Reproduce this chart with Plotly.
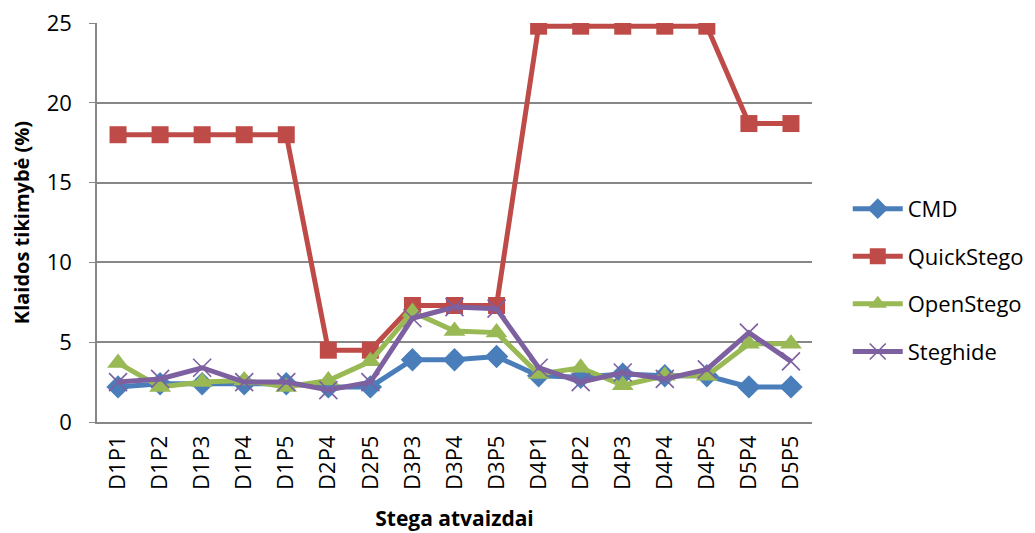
import plotly.graph_objects as go

# Stego images (x categories)
categories = ["D1P1", "D1P2", "D1P3", "D1P4", "D1P5", "D2P4", "D2P5", "D3P3", "D3P4",
              "D3P5", "D4P1", "D4P2", "D4P3", "D4P4", "D4P5", "D5P4", "D5P5"]

# Error probability (%) per tool
cmd = [2.2, 2.4, 2.4, 2.4, 2.4, 2.2, 2.2, 3.9, 3.9, 4.1, 2.9, 2.8, 3.0, 2.9, 2.9, 2.2, 2.2]
quickstego = [18.0, 18.0, 18.0, 18.0, 18.0, 4.5, 4.5, 7.3, 7.3, 7.3, 24.8, 24.8, 24.8, 24.8, 24.8, 18.7, 18.7]
openstego = [3.7, 2.2, 2.5, 2.6, 2.2, 2.6, 3.8, 6.9, 5.7, 5.6, 3.0, 3.4, 2.3, 2.9, 2.9, 4.9, 4.9]
steghide = [2.5, 2.7, 3.4, 2.5, 2.5, 2.0, 2.5, 6.5, 7.2, 7.1, 3.4, 2.5, 3.1, 2.7, 3.3, 5.6, 3.8]

y_ticks = [0, 5, 10, 15, 20, 25]

FONT = "Open Sans"

series = [
    ("CMD", cmd, "#4A7EBB", dict(symbol="diamond", size=18)),
    ("QuickStego", quickstego, "#BE4B48", dict(symbol="square", size=17)),
    ("OpenStego", openstego, "#98B954", dict(symbol="triangle-up", size=19)),
    ("Steghide", steghide, "#7D60A0", dict(symbol="x-thin-open", size=18)),
]

fig = go.Figure()
for name, vals, color, mk in series:
    marker = dict(color=color, **mk)
    if mk["symbol"].startswith("x-thin"):
        marker["line"] = dict(color=color, width=1.6)
    fig.add_trace(go.Scatter(
        x=categories, y=vals, name=name, mode="lines+markers",
        line=dict(color=color, width=5),
        marker=marker,
        legendgroup=name,
    ))

fig.update_layout(
    width=1035, height=533,
    margin=dict(l=97, r=223, t=23, b=111, autoexpand=False),
    plot_bgcolor="white", paper_bgcolor="white",
    font=dict(family=FONT, size=22, color="black"),
    showlegend=True,
    legend=dict(x=1.05, y=0.355, xanchor="left", yanchor="middle",
                font=dict(family=FONT, size=22), tracegroupgap=16,
                itemwidth=50, bgcolor="rgba(0,0,0,0)"),
)

fig.update_xaxes(
    type="category", tickangle=-90, showgrid=False, automargin=False,
    showline=True, linecolor="#878787", linewidth=1.5,
    ticks="", tickfont=dict(family=FONT, size=22), ticklabelstandoff=3,
    title=dict(text="<b>Stega atvaizdai</b>", font=dict(family=FONT, size=21), standoff=22),
    range=[-0.5, len(categories) - 0.5],
)
fig.update_yaxes(
    range=[0, 25], tickvals=y_ticks, showgrid=True, gridcolor="#878787", gridwidth=1.5,
    showline=True, linecolor="#878787", linewidth=1.5, automargin=False,
    ticks="outside", ticklen=6, tickcolor="#878787", ticklabelstandoff=13,
    tickfont=dict(family=FONT, size=22),
    title=dict(text="<b>Klaidos tikimybė (%)</b>", font=dict(family=FONT, size=20), standoff=12),
    zeroline=False,
)

fig.write_html("out.html")
